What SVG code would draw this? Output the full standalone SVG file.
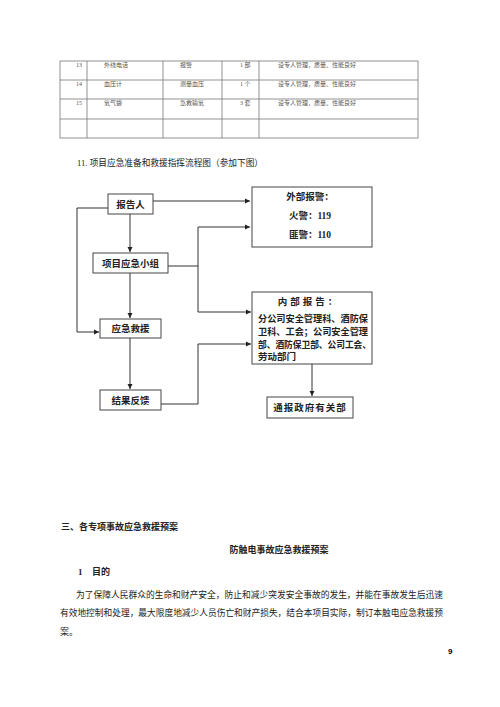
<svg xmlns="http://www.w3.org/2000/svg" width="500" height="707" viewBox="0 0 500 707">
<defs>
<marker id="ah" markerWidth="6" markerHeight="6" refX="5" refY="3" orient="auto" markerUnits="userSpaceOnUse">
<path d="M0,0.5 L5,3 L0,5.5 Z" fill="#222"/>
</marker>
</defs>
<style>
text{font-family:"Liberation Serif","Noto Sans CJK SC",serif;fill:#222}
.tb{font-size:6px;fill:#555}
.tl{stroke:#777;stroke-width:0.8;fill:none}
.bx{fill:#fff;stroke:#444;stroke-width:1}
.bt{font-size:9.5px;font-weight:bold;text-anchor:middle}
.bl{font-size:9.5px;font-weight:bold}
.ln{stroke:#333;stroke-width:1;fill:none}
.bd{font-size:9px}
</style>
<rect width="500" height="707" fill="#fff"/>

<g id="table">
<rect class="tl" x="60" y="61" width="358" height="77"/>
<line class="tl" x1="60" y1="80" x2="418" y2="80"/>
<line class="tl" x1="60" y1="99" x2="418" y2="99"/>
<line class="tl" x1="60" y1="119" x2="418" y2="119"/>
<line class="tl" x1="87" y1="61" x2="87" y2="138"/>
<line class="tl" x1="163" y1="61" x2="163" y2="138"/>
<line class="tl" x1="222" y1="61" x2="222" y2="138"/>
<line class="tl" x1="259" y1="61" x2="259" y2="138"/>
<text class="tb" x="76" y="67">13</text>
<text class="tb" x="104" y="67">外线电话</text>
<text class="tb" x="180" y="67">报警</text>
<text class="tb" x="240" y="67">1 部</text>
<text class="tb" x="278" y="67">设专人管理，质量、性能良好</text>
<text class="tb" x="76" y="86">14</text>
<text class="tb" x="104" y="86">血压计</text>
<text class="tb" x="180" y="86">测量血压</text>
<text class="tb" x="240" y="86">1 个</text>
<text class="tb" x="278" y="86">设专人管理，质量、性能良好</text>
<text class="tb" x="76" y="105">15</text>
<text class="tb" x="104" y="105">氧气袋</text>
<text class="tb" x="180" y="105">急救输氧</text>
<text class="tb" x="240" y="105">3 套</text>
<text class="tb" x="278" y="105">设专人管理，质量、性能良好</text>
</g>

<text x="77" y="166" font-size="9" textLength="186" lengthAdjust="spacingAndGlyphs">11. 项目应急准备和救援指挥流程图（参加下图）</text>

<g id="connectors">
<polyline class="ln" points="153,201 250,201" marker-end="url(#ah)"/>
<polyline class="ln" points="108,208 77,208 77,332 99,332" marker-end="url(#ah)"/>
<polyline class="ln" points="130,214 130,252" marker-end="url(#ah)"/>
<polyline class="ln" points="168,266 198,266 198,227 250,227" marker-end="url(#ah)"/>
<polyline class="ln" points="198,266 198,312 251,312" marker-end="url(#ah)"/>
<polyline class="ln" points="130,273 130,318" marker-end="url(#ah)"/>
<polyline class="ln" points="130,338 130,389" marker-end="url(#ah)"/>
<polyline class="ln" points="161,404 198,404 198,344 251,344" marker-end="url(#ah)"/>
<polyline class="ln" points="312,364 312,396" marker-end="url(#ah)"/>
</g>

<g id="n_report">
<rect class="bx" x="108" y="194" width="45" height="20"/>
<text class="bt" x="130.5" y="207.5">报告人</text>
</g>
<g id="n_group">
<rect class="bx" x="93" y="253" width="75" height="20"/>
<text class="bt" x="130.5" y="266.5">项目应急小组</text>
</g>
<g id="n_rescue">
<rect class="bx" x="100" y="319" width="61" height="19"/>
<text class="bt" x="130.5" y="332">应急救援</text>
</g>
<g id="n_feedback">
<rect class="bx" x="100" y="390" width="61" height="20"/>
<text class="bt" x="130.5" y="403.5">结果反馈</text>
</g>
<g id="n_external">
<rect class="bx" x="252" y="187" width="120" height="60"/>
<text class="bt" x="310" y="200">外部报警：</text>
<text class="bt" x="310" y="219">火警：119</text>
<text class="bt" x="310" y="238">匪警：110</text>
</g>
<g id="n_internal">
<rect class="bx" x="252" y="292" width="120" height="72"/>
<text class="bt" x="309" y="305" letter-spacing="3">内部报告：</text>
<text class="bl" x="258" y="322" textLength="110" lengthAdjust="spacingAndGlyphs">分公司安全管理科、酒防保</text>
<text class="bl" x="258" y="335" textLength="110" lengthAdjust="spacingAndGlyphs">卫科、工会；公司安全管理</text>
<text class="bl" x="258" y="347.5" textLength="113" lengthAdjust="spacingAndGlyphs">部、酒防保卫部、公司工会、</text>
<text class="bl" x="258" y="360">劳动部门</text>
</g>
<g id="n_gov">
<rect class="bx" x="267" y="397" width="86" height="21"/>
<text class="bt" x="310" y="411" letter-spacing="1">通报政府有关部</text>
</g>

<text class="bd" x="61" y="530" font-weight="bold">三、各专项事故应急救援预案</text>
<text class="bd" x="279" y="553" font-weight="bold" text-anchor="middle">防触电事故应急救援预案</text>
<text class="bd" x="78" y="575" font-weight="bold">1</text>
<text class="bd" x="92" y="575" font-weight="bold">目的</text>
<text class="bd" x="76" y="598" textLength="367" lengthAdjust="spacingAndGlyphs">为了保障人民群众的生命和财产安全，防止和减少突发安全事故的发生，并能在事故发生后迅速</text>
<text class="bd" x="60" y="616" textLength="383" lengthAdjust="spacingAndGlyphs">有效地控制和处理，最大限度地减少人员伤亡和财产损失，结合本项目实际，制订本触电应急救援预</text>
<text class="bd" x="60" y="635">案。</text>
<text x="448" y="654" font-size="8" font-weight="bold" style="font-family:'Liberation Sans',sans-serif;fill:#000">9</text>
</svg>
